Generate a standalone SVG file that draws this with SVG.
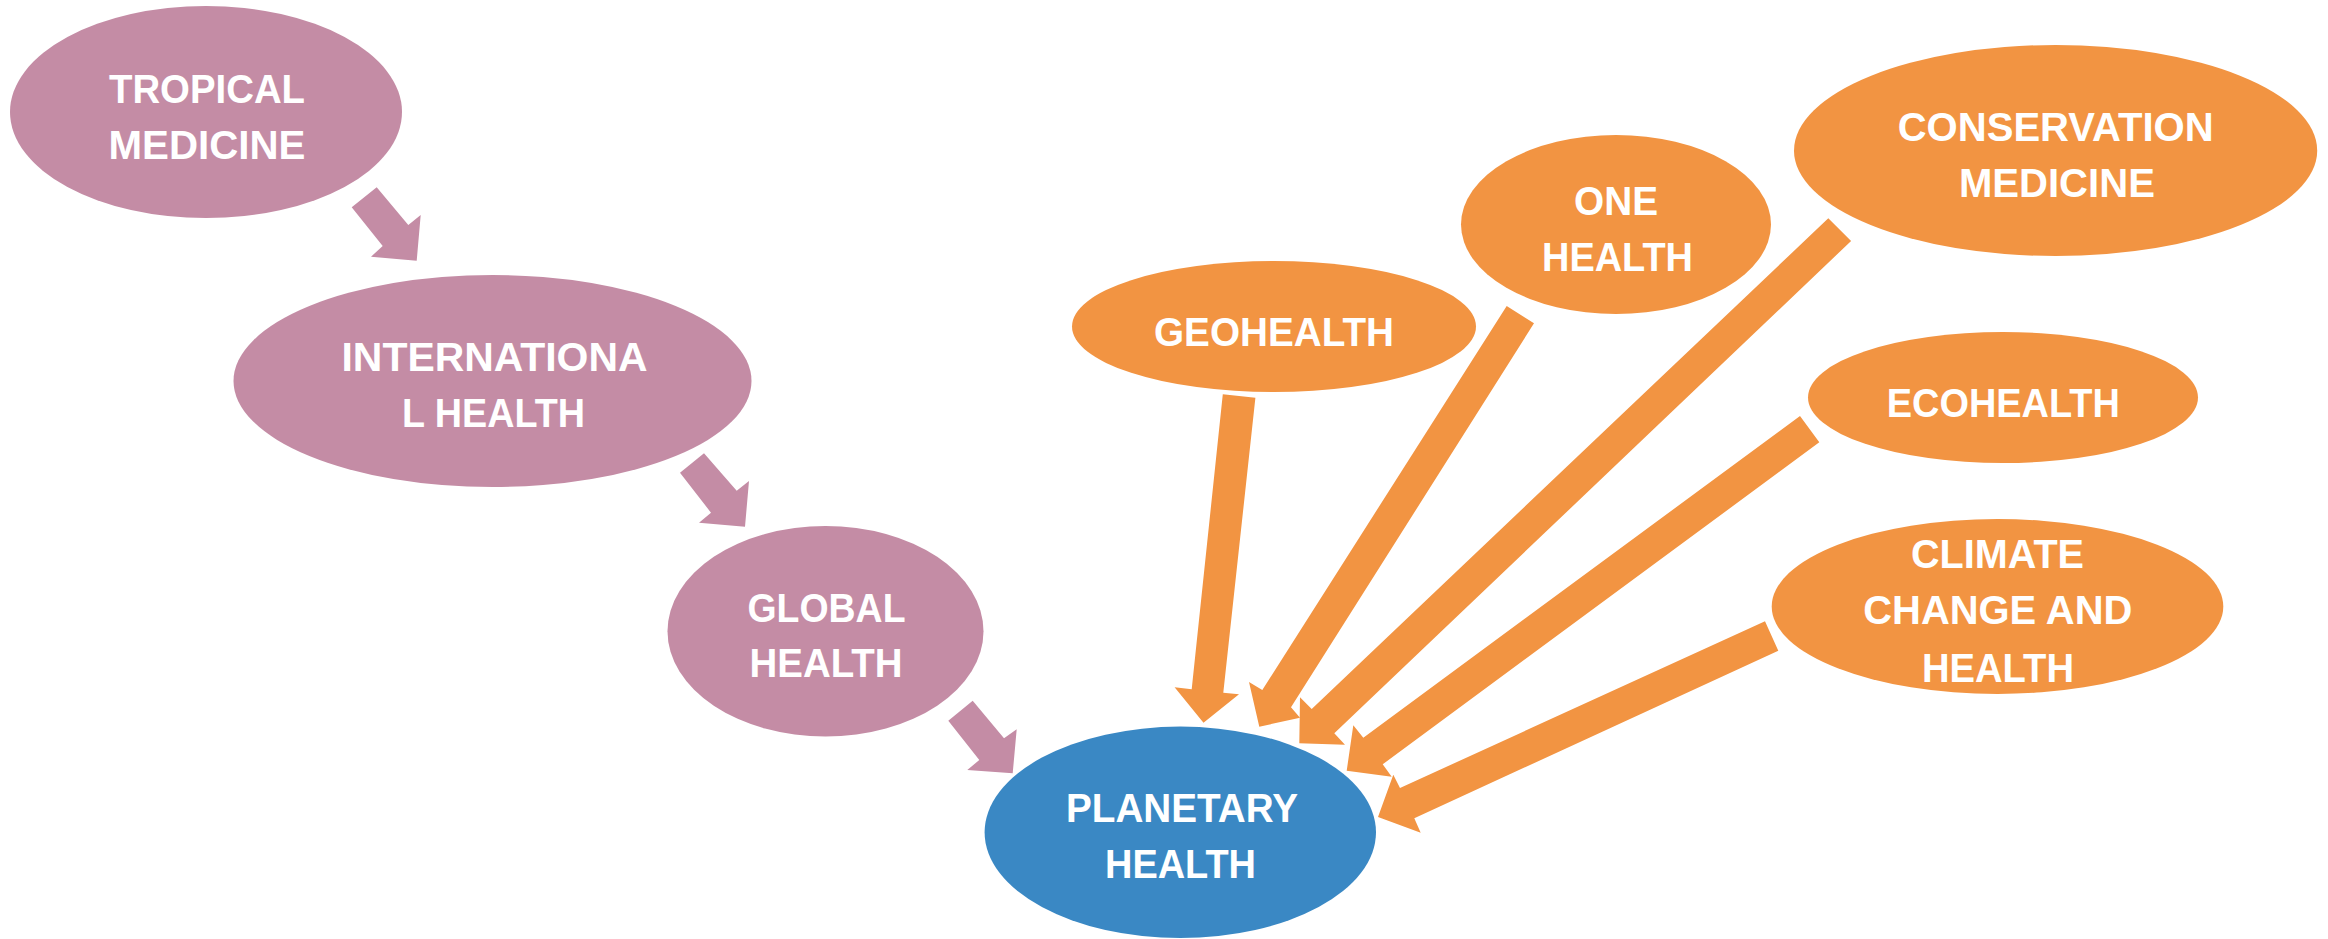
<svg xmlns="http://www.w3.org/2000/svg" width="2328" height="939" viewBox="0 0 2328 939">
<style>
.pink{fill:#C48CA5}
.orange{fill:#F29442}
.blue{fill:#3A88C4}
.lbl{fill:#FFFFFF;font-family:"Liberation Sans",Arial,sans-serif;font-weight:bold;font-size:41px;text-anchor:middle}
</style>
<rect width="2328" height="939" fill="#FFFFFF"/>
<g id="connectors">
<polygon class="pink" points="351.7,207.3 376.7,187.3 408.3,225 420.7,215 416.7,260.7 371,256.7 382.7,246"/>
<polygon class="pink" points="680,472.7 704,453.3 736.7,490.7 749,481 745,526.7 699,522.7 711,512.7"/>
<polygon class="pink" points="948.3,720.7 972.7,700.7 1004,738.3 1016.7,729.3 1012.7,773.3 967.3,770 979.3,760"/>
<polygon class="orange" points="1222.8,394.3 1255.4,397.7 1223.3,692.7 1239,694.3 1203.5,722.7 1174.6,687.3 1191.7,689.3"/>
<polygon class="orange" points="1506.7,306 1534,323.3 1291,707.3 1300,717.7 1259.3,726.7 1249,682 1262.3,690"/>
<polygon class="orange" points="1828.3,218.3 1851.1,241 1334.3,733.3 1345,744.7 1299.3,743.3 1300,697.3 1311.7,709"/>
<polygon class="orange" points="1800,416 1819.3,442.3 1382.7,764.3 1391.7,776.7 1346.7,770.7 1353.3,725.3 1363.3,737.7"/>
<polygon class="orange" points="1765,621.3 1778.3,650.7 1414.3,818.3 1420.7,832.7 1378,817 1393.3,774.7 1400,788"/>
</g>
<g id="tropical-medicine">
<ellipse class="pink" cx="206" cy="112" rx="196" ry="106"/>
<text class="lbl" x="207" y="103" textLength="196" lengthAdjust="spacingAndGlyphs">TROPICAL</text>
<text class="lbl" x="207" y="159" textLength="197" lengthAdjust="spacingAndGlyphs">MEDICINE</text>
</g>
<g id="international-health">
<ellipse class="pink" cx="492.5" cy="381" rx="259" ry="106"/>
<text class="lbl" x="494.5" y="371" textLength="306" lengthAdjust="spacingAndGlyphs">INTERNATIONA</text>
<text class="lbl" x="493.5" y="427" textLength="183" lengthAdjust="spacingAndGlyphs">L HEALTH</text>
</g>
<g id="global-health">
<ellipse class="pink" cx="825.5" cy="631.3" rx="158" ry="105.3"/>
<text class="lbl" x="826.5" y="622" textLength="158" lengthAdjust="spacingAndGlyphs">GLOBAL</text>
<text class="lbl" x="826" y="677" textLength="153" lengthAdjust="spacingAndGlyphs">HEALTH</text>
</g>
<g id="planetary-health">
<ellipse class="blue" cx="1180.3" cy="832.3" rx="195.7" ry="105.7"/>
<text class="lbl" x="1182" y="822" textLength="232" lengthAdjust="spacingAndGlyphs">PLANETARY</text>
<text class="lbl" x="1180.5" y="878" textLength="151" lengthAdjust="spacingAndGlyphs">HEALTH</text>
</g>
<g id="geohealth">
<ellipse class="orange" cx="1274" cy="326.5" rx="202" ry="65.5"/>
<text class="lbl" x="1274" y="346" textLength="240" lengthAdjust="spacingAndGlyphs">GEOHEALTH</text>
</g>
<g id="one-health">
<ellipse class="orange" cx="1616" cy="224.5" rx="155" ry="89.5"/>
<text class="lbl" x="1616" y="215" textLength="84" lengthAdjust="spacingAndGlyphs">ONE</text>
<text class="lbl" x="1617.5" y="271" textLength="151" lengthAdjust="spacingAndGlyphs">HEALTH</text>
</g>
<g id="conservation-medicine">
<ellipse class="orange" cx="2055.6" cy="150.5" rx="261.6" ry="105.5"/>
<text class="lbl" x="2055.7" y="141" textLength="316" lengthAdjust="spacingAndGlyphs">CONSERVATION</text>
<text class="lbl" x="2056.9" y="197" textLength="196" lengthAdjust="spacingAndGlyphs">MEDICINE</text>
</g>
<g id="ecohealth">
<ellipse class="orange" cx="2003" cy="397.5" rx="195" ry="65.5"/>
<text class="lbl" x="2003.3" y="417" textLength="233" lengthAdjust="spacingAndGlyphs">ECOHEALTH</text>
</g>
<g id="climate-change-and-health">
<ellipse class="orange" cx="1997.5" cy="606.5" rx="225.8" ry="87.5"/>
<text class="lbl" x="1997.5" y="568" textLength="173" lengthAdjust="spacingAndGlyphs">CLIMATE</text>
<text class="lbl" x="1997.8" y="624" textLength="269" lengthAdjust="spacingAndGlyphs">CHANGE AND</text>
<text class="lbl" x="1998" y="682" textLength="152" lengthAdjust="spacingAndGlyphs">HEALTH</text>
</g>
</svg>
